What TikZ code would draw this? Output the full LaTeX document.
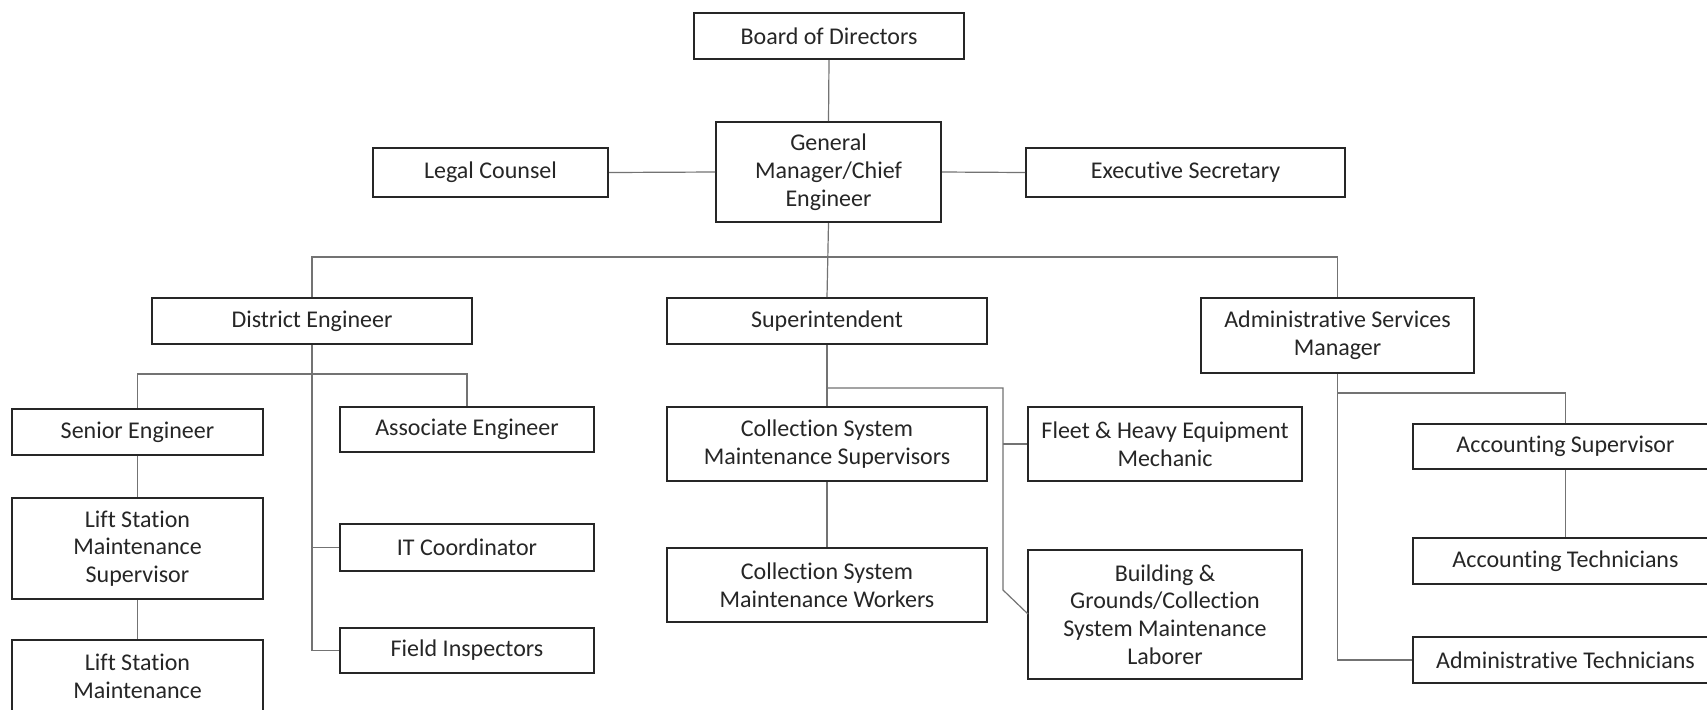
\documentclass[tikz,border=0pt]{standalone}
\usepackage{fontspec}
\setmainfont{Carlito}[Ligatures={NoCommon}]
\tikzset{
  orgbox/.style={draw=black!85, line width=1pt, fill=white, align=center,
    inner sep=0pt, text=black!85, font=\fontsize{12}{13.9}\selectfont},
  link/.style={draw=black!55, line width=0.6pt}
}
% box from corner (x1,y1) to corner (x2,y2), in pixel units, y downwards
\newcommand\orgnode[6]{%
  \node[orgbox, minimum width={(#4-#2)*0.5pt}, minimum height={(#5-#3)*0.5pt}]
    (#1) at ({(#2+#4)/2},{(#3+#5)/2}) {#6};}
\begin{document}
\begin{tikzpicture}[x=0.5pt,y=-0.5pt]
\path[use as bounding box, clip] (0,0) rectangle (1707,709);
\fill[white] (0,0) rectangle (1707,709);

% top levels
\orgnode{board}{694}{13}{964}{59}{Board of Directors}
\orgnode{gm}{716}{122}{941}{222}{General\\Manager/Chief\\Engineer}
\orgnode{legal}{373}{148}{608}{197}{Legal Counsel}
\orgnode{exec}{1026}{148}{1345}{197}{Executive Secretary}

% department heads
\orgnode{de}{152}{298}{472}{344}{District Engineer}
\orgnode{sup}{667}{298}{987}{344}{Superintendent}
\orgnode{asm}{1201}{298}{1474}{373}{Administrative Services\\Manager}

% engineering
\orgnode{senior}{12}{409}{263}{455}{Senior Engineer}
\orgnode{assoc}{340}{407}{594}{452}{Associate Engineer}
\orgnode{lsms}{12}{498}{263}{599}{Lift Station\\Maintenance\\Supervisor}
\orgnode{lsm}{12}{640}{263}{741}{Lift Station\\Maintenance\\\phantom{X}}
\orgnode{itc}{340}{524}{594}{571}{IT Coordinator}
\orgnode{field}{340}{628}{594}{673}{Field Inspectors}

% operations
\orgnode{csms}{667}{407}{987}{481}{Collection System\\Maintenance Supervisors}
\orgnode{csmw}{667}{548}{987}{622}{Collection System\\Maintenance Workers}
\orgnode{fleet}{1028}{407}{1302}{481}{Fleet \& Heavy Equipment\\Mechanic}
\orgnode{bldg}{1028}{550}{1302}{679}{Building \&\\Grounds/Collection\\System Maintenance\\Laborer}

% administration
\orgnode{accsup}{1413}{424}{1718}{469}{Accounting Supervisor}
\orgnode{acctech}{1413}{538}{1718}{584}{Accounting Technicians}
\orgnode{admtech}{1413}{637}{1718}{683}{Administrative Technicians}

% connectors
\coordinate (topbar) at (828.5,257);
\draw[link] (board.south) -- (gm.north);
\draw[link] (legal.east) -- (gm.west);
\draw[link] (gm.east) -- (exec.west);
\draw[link] (gm.south) -- (sup.north);
\draw[link] (de.north) |- (topbar) -| (asm.north);

% district engineer branch
\coordinate (debar) at (312,374);
\draw[link] (de.south) |- (field.west);
\draw[link] (de.south |- itc.west) -- (itc.west);
\draw[link] (senior.north) |- (debar) -| (assoc.north);
\draw[link] (senior.south) -- (lsms.north);
\draw[link] (lsms.south) -- (lsm.north);

% superintendent branch
\coordinate (supbar) at (1003,388);
\coordinate (supbend) at (1003,590);
\coordinate (bldgin) at (1028,614);
\draw[link] (sup.south) -- (csms.north);
\draw[link] (csms.south) -- (csmw.north);
\draw[link] (sup.south |- supbar) -- (supbar) -- (supbend) -- (bldgin);
\draw[link] (supbar |- fleet.west) -- (fleet.west);

% administrative branch
\coordinate (asmbar) at (1337.5,393);
\draw[link] (asm.south) |- (admtech.west);
\draw[link] (asmbar) -| (accsup.north);
\draw[link] (accsup.south) -- (acctech.north);
\end{tikzpicture}
\end{document}
